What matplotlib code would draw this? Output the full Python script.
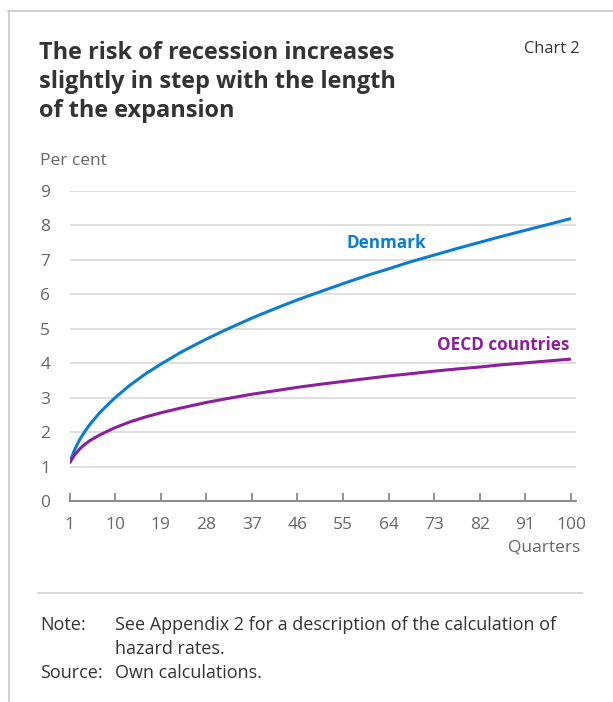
import matplotlib
matplotlib.use("Agg")
import matplotlib.pyplot as plt
from matplotlib.lines import Line2D

plt.rcParams['font.family'] = ['Open Sans', 'DejaVu Sans']

# Hazard rates by length of expansion (quarters)
quarters = [1, 2, 3, 4, 5, 7, 10, 13, 16, 19, 23, 28, 32, 37, 42, 46, 50,
            55, 60, 64, 68, 73, 78, 82, 86, 91, 95, 100]
denmark = [1.10, 1.49, 1.78, 2.01, 2.22, 2.57, 3.00, 3.37, 3.69, 3.97, 4.32,
           4.70, 4.98, 5.31, 5.61, 5.84, 6.05, 6.31, 6.56, 6.74, 6.93, 7.14,
           7.35, 7.51, 7.67, 7.86, 8.01, 8.20]
oecd = [1.10, 1.34, 1.51, 1.64, 1.75, 1.92, 2.13, 2.30, 2.44, 2.56, 2.70,
        2.86, 2.97, 3.10, 3.21, 3.30, 3.38, 3.47, 3.56, 3.63, 3.69, 3.77,
        3.84, 3.89, 3.95, 4.01, 4.06, 4.12]

x_ticks = [1, 10, 19, 28, 37, 46, 55, 64, 73, 82, 91, 100]
y_ticks = [0, 1, 2, 3, 4, 5, 6, 7, 8, 9]

BLUE = '#0a7dd3'
PURPLE = '#8c1f9b'
GREY_TXT = '#666666'
AXIS = '#808080'
GRID = '#d9d9d9'

W, H = 613, 702
fig = plt.figure(figsize=(W / 100, H / 100), dpi=100)

def fx(px):
    return px / W

def fy(py):
    return 1 - py / H

# Frame lines on top and left
fig.add_artist(Line2D([fx(8), fx(613)], [fy(10.5), fy(10.5)], color='#c8c8c8', lw=1.2))
fig.add_artist(Line2D([fx(8.5), fx(8.5)], [fy(10.5), fy(702)], color='#c8c8c8', lw=1.2))
# Separator above note
fig.add_artist(Line2D([fx(38), fx(582)], [fy(593), fy(593)], color='#d0d0d0', lw=1.2))

# Title
TITLE = 16.9
fig.text(fx(39), fy(53), "The risk of recession increases", fontsize=TITLE,
         fontweight='bold', color='#333333', va='center', ha='left')
fig.text(fx(39), fy(82), "slightly in step with the length", fontsize=TITLE,
         fontweight='bold', color='#333333', va='center', ha='left')
fig.text(fx(39), fy(111), "of the expansion", fontsize=TITLE,
         fontweight='bold', color='#333333', va='center', ha='left')
fig.text(fx(580), fy(49), "Chart 2", fontsize=11.8, color='#333333', va='center', ha='right')

ax = fig.add_axes([fx(69.5), fy(501), (576 - 69.5) / W, (501 - 191) / H])
ax.plot(quarters, denmark, color=BLUE, lw=2.2, solid_capstyle='butt')
ax.plot(quarters, oecd, color=PURPLE, lw=2.2, solid_capstyle='butt')

ax.set_xlim(1, 101)
ax.set_ylim(0, 9)
ax.set_yticks(y_ticks)
ax.set_xticks(x_ticks)
ax.set_xticklabels([str(v) for v in x_ticks])
ax.set_yticklabels([str(v) for v in y_ticks])

for s in ['top', 'right', 'left']:
    ax.spines[s].set_visible(False)
ax.spines['bottom'].set_color(AXIS)
ax.spines['bottom'].set_linewidth(1.3)

ax.grid(axis='y', color=GRID, lw=1.2)
ax.set_axisbelow(True)
ax.tick_params(axis='y', length=0, pad=17.5, labelsize=12.5, labelcolor=GREY_TXT)
ax.tick_params(axis='x', direction='in', length=6, width=1.2, color=AXIS,
               pad=11.5, labelsize=12.5, labelcolor=GREY_TXT)
for lbl in ax.get_yticklabels():
    lbl.set_horizontalalignment('center')

ax.annotate("Denmark", xy=(63.5, 7.5), xycoords='data', color=BLUE,
            fontsize=12.3, fontweight='bold', ha='center', va='center')
ax.annotate("OECD countries", xy=(99.6, 4.52), xycoords='data', color=PURPLE,
            fontsize=12.3, fontweight='bold', ha='right', va='center')

fig.text(fx(40), fy(161), "Per cent", fontsize=12.5, color=GREY_TXT, va='center', ha='left')
fig.text(fx(580), fy(547), "Quarters", fontsize=12.5, color=GREY_TXT, va='center', ha='right')

# Notes
NOTE = 13
fig.text(fx(40), fy(625), "Note:", fontsize=NOTE, color='#333333', va='center', ha='left')
fig.text(fx(115), fy(625), "See Appendix 2 for a description of the calculation of",
         fontsize=NOTE, color='#333333', va='center', ha='left')
fig.text(fx(115), fy(649), "hazard rates.", fontsize=NOTE, color='#333333', va='center', ha='left')
fig.text(fx(40), fy(673), "Source:", fontsize=NOTE, color='#333333', va='center', ha='left')
fig.text(fx(115), fy(673), "Own calculations.", fontsize=NOTE, color='#333333', va='center', ha='left')

fig.savefig("out.png", dpi=100, facecolor='white')
